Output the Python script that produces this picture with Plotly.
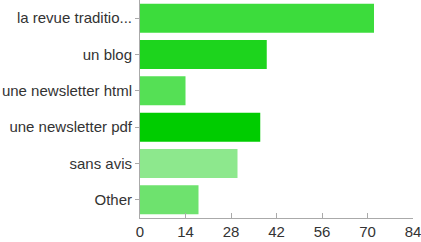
import plotly.graph_objects as go

categories = ["la revue traditio...", "un blog", "une newsletter html",
              "une newsletter pdf", "sans avis", "Other"]
values = [72, 39, 14, 37, 30, 18]
colors = ["#3cdc3c", "#1dd41d", "#55e055", "#00cc00", "#8de88d", "#6ee26e"]
x_ticks = [0, 14, 28, 42, 56, 70, 84]

fig = go.Figure(go.Bar(
    x=values, y=categories, orientation="h",
    marker=dict(color=colors, line=dict(width=0)),
    hoverinfo="x+y",
))

fig.update_layout(
    width=421, height=242,
    margin=dict(l=140, r=8, t=0, b=24, autoexpand=False),
    paper_bgcolor="white", plot_bgcolor="white",
    bargap=0.2,
    showlegend=False,
    font=dict(family="Liberation Sans, Arial, sans-serif", size=15, color="#333333"),
)
fig.update_xaxes(
    range=[0, 84], tickvals=x_ticks, ticktext=[str(t) for t in x_ticks],
    showgrid=False, zeroline=False, automargin=False,
    showline=True, linecolor="#aaaaaa", linewidth=1,
    ticks="inside", ticklen=5, tickcolor="#aaaaaa",
    tickfont=dict(size=15), fixedrange=True,
    ticklabeloverflow="allow",
)
fig.update_yaxes(
    autorange="reversed", automargin=False,
    showgrid=False, zeroline=False,
    showline=True, linecolor="#aaaaaa", linewidth=1,
    ticks="outside", ticklen=4, tickcolor="#aaaaaa",
    tickfont=dict(size=15), fixedrange=True,
)

fig.write_html(
    "out.html",
    config={"displayModeBar": False},
    post_script="document.body.style.margin='0';document.body.style.overflow='hidden';",
)
